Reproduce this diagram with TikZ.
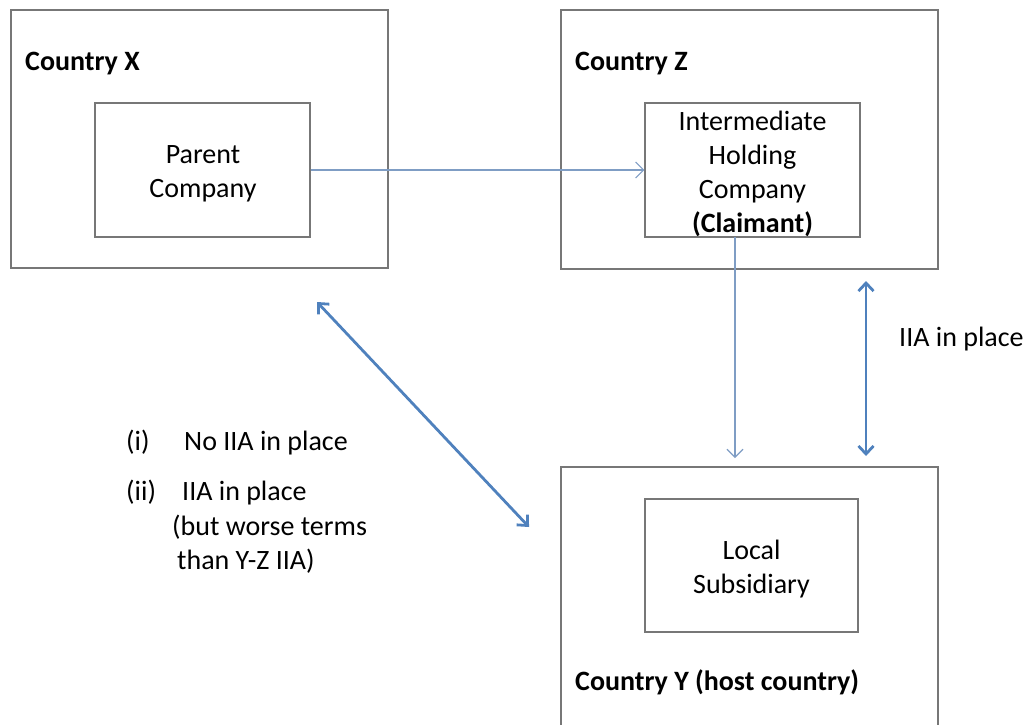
\documentclass[tikz,border=0pt]{standalone}
\usepackage{fontspec}
\setmainfont{Carlito}
\usetikzlibrary{arrows.meta}
\definecolor{boxgray}{HTML}{777777}
\definecolor{thinblue}{HTML}{7F9DC4}
\definecolor{thickblue}{HTML}{4F81BD}
\tikzset{
  country/.style={draw=boxgray, line width=1.2pt, minimum width=377pt, inner sep=0pt},
  company/.style={draw=boxgray, line width=1.2pt, minimum width=215pt, minimum height=134pt, inner sep=0pt},
  ctext/.style={align=center, inner sep=0pt},
  lbl/.style={anchor=base west, inner sep=0pt},
  thinarrow/.style={draw=thinblue, line width=1.1pt, -{Straight Barb[length=8pt,width=16pt,line width=1.1pt]}},
  thickarrow/.style={draw=thickblue, line width=2.8pt, {Straight Barb[length=8pt,width=15pt,line width=2.8pt]}-{Straight Barb[length=8pt,width=15pt,line width=2.8pt]}}
}
\begin{document}
\begin{tikzpicture}[x=1pt, y=-1pt, font=\fontsize{28}{34}\selectfont]
\useasboundingbox (0,0) rectangle (1033,724);
\clip (0,0) rectangle (1033,724);
% country boxes
\node[country, minimum height=258pt] (X) at (199.5,139) {};
\node[country, minimum height=259pt] (Z) at (749.5,139.5) {};
\node[country, minimum height=266pt] (Y) at (749.5,600) {};
% company boxes
\node[company] (P) at (202.5,170) {};
\node[company] (I) at (752.5,170) {};
\node[company, minimum width=213pt, minimum height=133pt] (L) at (751.5,565.5) {};
\node[ctext] (Pt) at (203,174) {Parent\\Company};
\node[ctext] (It) at (752.5,174) {Intermediate\\Holding\\Company\\\textbf{(Claimant)}};
\node[ctext] (Lt) at (751.5,569) {Local\\Subsidiary};
% labels
\node[lbl] (lx) at (25,70) {\textbf{Country X}};
\node[lbl] (lz) at (575,70) {\textbf{Country Z}};
\node[lbl] (ly) at (575,690) {\textbf{Country Y (host country)}};
\node[lbl] (iia) at (899,346) {IIA in place};
\node[lbl] (i) at (126,450) {(i)};
\node[lbl] (it) at (184,450) {No IIA in place};
\node[lbl] (ii) at (126,500) {(ii)};
\node[lbl] (iit) at (182,500) {IIA in place};
\node[lbl] (iit2) at (172,535) {(but worse terms};
\node[lbl] (iit3) at (177,569) {than Y-Z IIA)};
% connector end points
\coordinate (isrc) at (735,237);
\coordinate (idst) at (735,458);
\coordinate (vz) at (866,281);
\coordinate (vy) at (866,456);
\coordinate (dx) at (317,302);
\coordinate (dy) at (529,527);
% connectors
\draw[thinarrow] (P.east) -- (I.west);
\draw[thinarrow] (isrc) -- (idst);
\draw[thickarrow] (vz) -- (vy);
\draw[thickarrow] (dx) -- (dy);
\end{tikzpicture}
\end{document}
